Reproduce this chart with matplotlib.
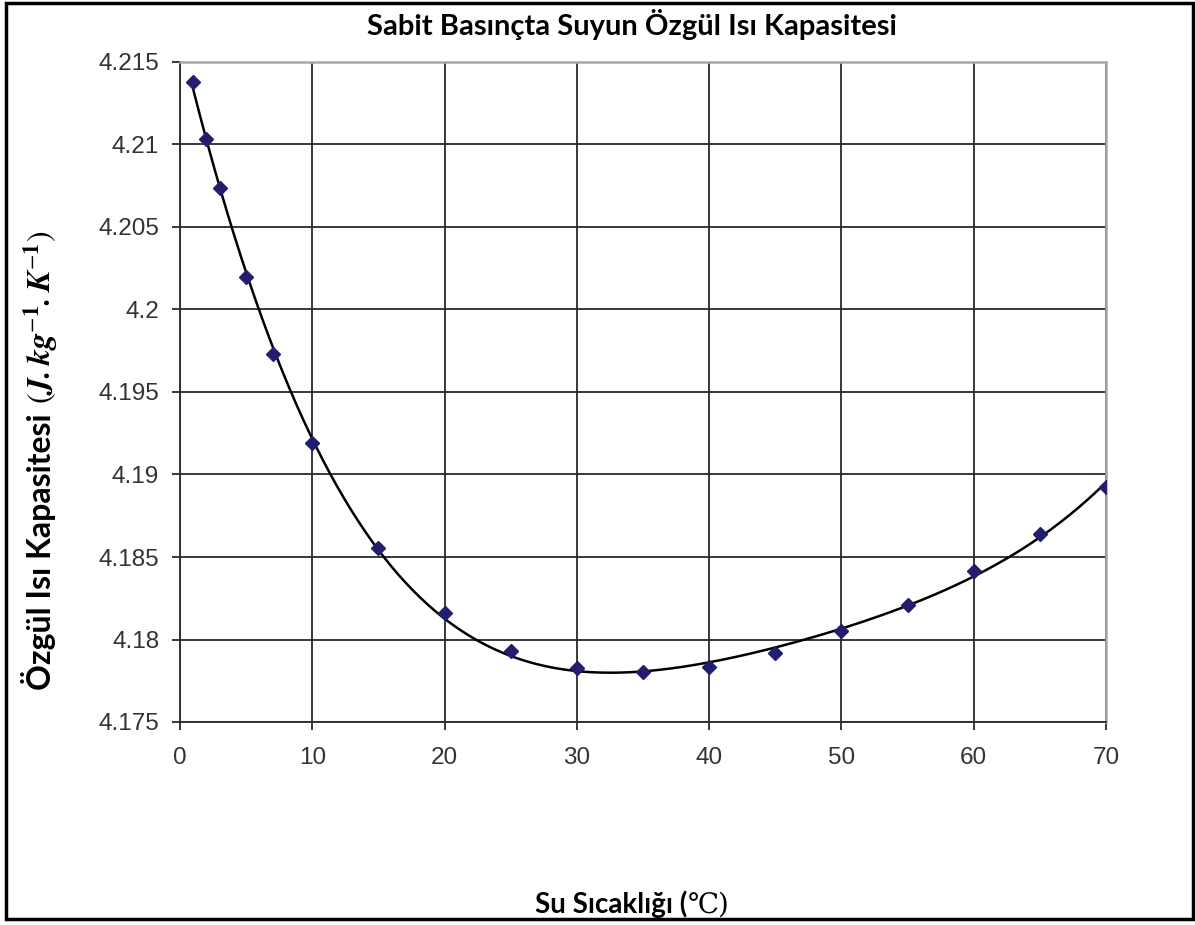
import matplotlib
matplotlib.use("Agg")
import matplotlib.pyplot as plt
from matplotlib.patches import Rectangle
import numpy as np

plt.rcParams.update({
    "font.family": ["Liberation Sans", "DejaVu Sans"],
    "mathtext.fontset": "stix",
})

# specific heat of water at constant pressure
temp_c = [1, 2, 3, 5, 7, 10, 15, 20, 25, 30, 35, 40, 45, 50, 55, 60, 65, 70]
cp = [4.21380, 4.21034, 4.20736, 4.20198, 4.19733, 4.19188, 4.18555, 4.18163,
      4.17930, 4.17825, 4.17800, 4.17835, 4.17920, 4.18050, 4.18212, 4.18416,
      4.18642, 4.18926]

x_ticks = [0, 10, 20, 30, 40, 50, 60, 70]
y_ticks = [4.175, 4.18, 4.185, 4.19, 4.195, 4.2, 4.205, 4.21, 4.215]
y_tick_labels = ["4.175", "4.18", "4.185", "4.19", "4.195", "4.2", "4.205",
                 "4.21", "4.215"]

W, H = 1195, 925
fig = plt.figure(figsize=(W / 100, H / 100), dpi=100)
ax = fig.add_axes([180 / W, 1 - 722 / H, 926 / W, 660 / H])

# polynomial trendline through the measurements
coef = np.polyfit(temp_c, cp, 4)
xs = np.linspace(min(temp_c), max(temp_c), 400)
ax.plot(xs, np.polyval(coef, xs), color="black", lw=1.8, zorder=3)
ax.plot(temp_c, cp, ls="none", marker="D", ms=7.5, color="#221d6e",
        markeredgecolor="#221d6e", zorder=4)

ax.set_xlim(0, 70)
ax.set_ylim(4.175, 4.215)
ax.set_xticks(x_ticks)
ax.set_yticks(y_ticks)
ax.set_yticklabels(y_tick_labels)
ax.grid(True, color="#2a2a2a", lw=1.3)
ax.set_axisbelow(True)
ax.tick_params(direction="out", length=6, width=1.3, colors="#2a2a2a",
               labelsize=17.5, labelcolor="#333333", pad=9)
ax.tick_params(axis="x", pad=12)
for side in ("left", "bottom"):
    ax.spines[side].set_color("#2a2a2a")
    ax.spines[side].set_linewidth(1.3)
for side in ("top", "right"):
    ax.spines[side].set_color("#a8a8a8")
    ax.spines[side].set_linewidth(1.8)

bold_font = ["Lato", "DejaVu Sans"]
fig.text(632 / W, 1 - 24 / H, "Sabit Basınçta Suyun Özgül Isı Kapasitesi",
         ha="center", va="center", fontsize=21, fontweight="bold",
         family=bold_font)

renderer = fig.canvas.get_renderer()

# x label: bold words, unit symbol in a plain serif face
xl1 = fig.text(0, 1 - 913 / H, "Su Sıcaklığı (", ha="left", va="baseline",
               fontsize=20, fontweight="bold", family=bold_font)
xl2 = fig.text(0, 1 - 913 / H, "℃)", ha="left", va="baseline",
               fontsize=20, family=["DejaVu Serif"])
w1 = xl1.get_window_extent(renderer).width
w2 = xl2.get_window_extent(renderer).width
x0 = 632 - (w1 + w2) / 2
xl1.set_x(x0 / W)
xl2.set_x((x0 + w1) / W)

# y label: bold words followed by the unit in math
yl1 = fig.text(51 / W, 1 - 690 / H, "Özgül Isı Kapasitesi", rotation=90,
               rotation_mode="anchor", ha="left", va="baseline",
               fontsize=23, fontweight="bold", family=bold_font)
top = yl1.get_window_extent(renderer).y1
fig.text(51 / W, (top + 10) / H,
         r"$(\mathbfit{J.kg}^{-\mathbf{1}}\mathbfit{.K}^{-\mathbf{1}})$",
         rotation=90, rotation_mode="anchor", ha="left", va="baseline",
         fontsize=23)

# frame around the whole figure
fig.patches.append(Rectangle((0.005, 0.006), 0.993, 0.991,
                             transform=fig.transFigure, fill=False,
                             edgecolor="black", lw=2.5))

fig.savefig("out.png", dpi=100)
